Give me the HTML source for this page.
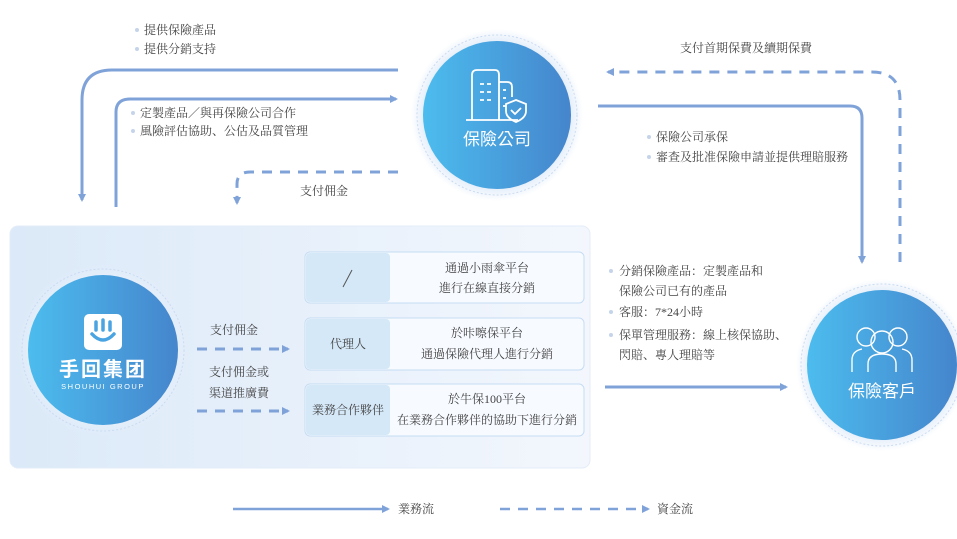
<!DOCTYPE html>
<html><head><meta charset="utf-8"><style>
html,body{margin:0;padding:0;background:#fff;}
svg text{font-family:"Liberation Serif","Noto Serif CJK SC","Noto Sans CJK TC",serif;fill:#444;}
.w{font-family:"Liberation Sans","Noto Sans CJK TC",sans-serif;fill:#fff;}
</style></head><body>
<svg width="957" height="534" viewBox="0 0 957 534" xmlns="http://www.w3.org/2000/svg" font-size="12">
<defs>
<linearGradient id="cg" x1="0" y1="0" x2="1" y2="0"><stop offset="0" stop-color="#4cbcee"/><stop offset="1" stop-color="#4585cc"/></linearGradient>
<linearGradient id="pg" x1="0" y1="0" x2="1" y2="0"><stop offset="0" stop-color="#dbe9f8"/><stop offset="1" stop-color="#f3f7fd"/></linearGradient>
<radialGradient id="glow"><stop offset="0.85" stop-color="#e4eefa"/><stop offset="1" stop-color="#e4eefa" stop-opacity="0"/></radialGradient>
<marker id="a" markerWidth="8" markerHeight="8" refX="6" refY="4" orient="auto" markerUnits="userSpaceOnUse"><path d="M0,0 L8,4 L0,8z" fill="#7fa3d9"/></marker>
</defs>
<rect x="10" y="226" width="580" height="242" rx="8" fill="url(#pg)" stroke="#e3ecf8"/>
<g stroke="#c6dcf3" fill="#f7faff">
<rect x="305" y="252" width="279" height="51" rx="5"/>
<rect x="305" y="318" width="279" height="52" rx="5"/>
<rect x="305" y="384" width="279" height="52" rx="5"/>
</g>
<g fill="#d5e8f8">
<rect x="306" y="253" width="84" height="49" rx="4"/>
<rect x="306" y="319" width="84" height="50" rx="4"/>
<rect x="306" y="385" width="84" height="50" rx="4"/>
</g>
<path d="M343,287 L352,270" stroke="#555" stroke-width="1"/>
<text x="348" y="348" text-anchor="middle">代理人</text>
<text x="348" y="414" text-anchor="middle">業務合作夥伴</text>
<text x="487" y="272" text-anchor="middle">通過小雨傘平台</text>
<text x="487" y="292" text-anchor="middle">進行在線直接分銷</text>
<text x="487" y="337" text-anchor="middle">於咔嚓保平台</text>
<text x="487" y="358" text-anchor="middle">通過保險代理人進行分銷</text>
<text x="487" y="403" text-anchor="middle">於牛保100平台</text>
<text x="487" y="424" text-anchor="middle">在業務合作夥伴的協助下進行分銷</text>
<g fill="none" stroke="#7fa3d9" stroke-width="3">
<path d="M398,70 H112 Q82,70 82,100 V200" marker-end="url(#a)"/>
<path d="M116,207 V112 Q116,99 130,99 H396" marker-end="url(#a)"/>
<path d="M598,106 H850 Q862,106 862,118 V262" marker-end="url(#a)"/>
<path d="M605,387 H786" marker-end="url(#a)"/>
<path d="M233,509 H388" marker-end="url(#a)" stroke-width="2.5"/>
<g stroke-dasharray="10,8">
<path d="M398,172 H250 Q237,172 237,184 V203" marker-end="url(#a)"/>
<path d="M900,262 V100 Q900,72 872,72 H608" marker-end="url(#a)"/>
<path d="M197,349 H288" marker-end="url(#a)"/>
<path d="M197,411 H288" marker-end="url(#a)"/>
<path d="M500,509 H648" marker-end="url(#a)" stroke-width="2.5"/>
</g>
</g>
<text x="398" y="513">業務流</text>
<text x="657" y="513">資金流</text>
<g>
<text x="144" y="34">提供保險產品</text><text x="144" y="53">提供分銷支持</text>
<text x="140" y="117">定製產品／與再保險公司合作</text><text x="140" y="135">風險評估協助、公估及品質管理</text>
<text x="300" y="195">支付佣金</text>
<text x="680" y="52">支付首期保費及續期保費</text>
<text x="656" y="141">保險公司承保</text><text x="656" y="161">審查及批准保險申請並提供理賠服務</text>
<text x="619" y="275">分銷保險產品：定製產品和</text><text x="619" y="295">保險公司已有的產品</text>
<text x="619" y="316">客服：7*24小時</text>
<text x="619" y="339">保單管理服務：線上核保協助、</text><text x="619" y="359">閃賠、專人理賠等</text>
<text x="210" y="334">支付佣金</text>
<text x="209" y="376">支付佣金或</text><text x="209" y="397">渠道推廣費</text>
</g>
<g fill="#c5d4ea">
<circle cx="137" cy="30" r="2"/><circle cx="137" cy="49" r="2"/>
<circle cx="133" cy="113" r="2"/><circle cx="133" cy="131" r="2"/>
<circle cx="649" cy="137" r="2"/><circle cx="649" cy="157" r="2"/>
<circle cx="611" cy="271" r="2"/><circle cx="611" cy="312" r="2"/><circle cx="611" cy="335" r="2"/>
</g>
<g>
<circle cx="497" cy="115" r="86" fill="url(#glow)"/>
<circle cx="497" cy="115" r="80" fill="none" stroke="#c9dbf2" stroke-dasharray="2,2"/>
<circle cx="497" cy="115" r="74" fill="url(#cg)"/>
<circle cx="103" cy="350" r="86" fill="url(#glow)"/>
<circle cx="103" cy="350" r="81" fill="none" stroke="#c9dbf2" stroke-dasharray="2,2"/>
<circle cx="103" cy="350" r="75" fill="url(#cg)"/>
<circle cx="882" cy="365" r="86" fill="url(#glow)"/>
<circle cx="882" cy="365" r="81" fill="none" stroke="#c9dbf2" stroke-dasharray="2,2"/>
<circle cx="882" cy="365" r="75" fill="url(#cg)"/>
</g>
<g fill="none" stroke="#fff" stroke-width="1.8">
<path d="M472,120 V75 Q472,70 477,70 H495 Q499,70 499,75 V120"/>
<path d="M499,82 H507 Q512,82 512,87 V97"/>
<path d="M466,120 H518"/>
<path d="M480,84h4M487,84h4M480,92h4M487,92h4M480,100h4M487,100h4M503,90h3M503,98h3M503,106h3"/>
<path d="M516,100 L526,104 V111 Q526,118 516,122 Q506,118 506,111 V104z"/>
<path d="M511,110 l4,4 l6,-6"/>
</g>
<text class="w" x="497" y="145" text-anchor="middle" font-size="17">保險公司</text>
<rect x="84" y="314" width="38" height="36" rx="5" fill="#fff"/>
<path d="M92,334 Q103,346 114,334 M96,330 V322 M103,330 V320 M110,330 V322" stroke="#4aa4e2" stroke-width="3.5" fill="none" stroke-linecap="round"/>
<text class="w" x="103" y="376" text-anchor="middle" font-size="20" font-weight="bold" letter-spacing="2">手回集团</text>
<text class="w" x="103" y="389" text-anchor="middle" font-size="7.5" letter-spacing="1.5">SHOUHUI GROUP</text>
<g fill="none" stroke="#fff" stroke-width="1.4">
<circle cx="866" cy="337" r="9"/><circle cx="898" cy="337" r="9"/><circle cx="882" cy="342" r="11"/>
<path d="M852,372 V360 Q852,351 862,349 M912,372 V360 Q912,351 902,349 M868,372 V364 Q868,354 882,354 Q896,354 896,364 V372"/>
</g>
<text class="w" x="882" y="397" text-anchor="middle" font-size="17">保險客戶</text>
</svg>
</body></html>
